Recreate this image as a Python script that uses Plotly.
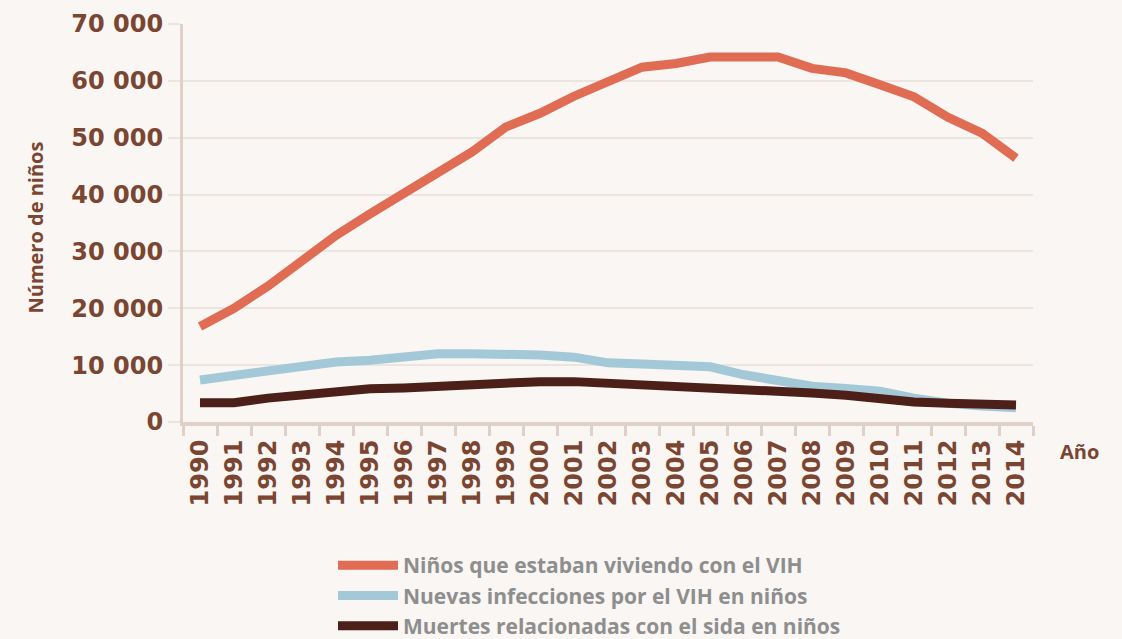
import plotly.graph_objects as go

years = [str(y) for y in range(1990, 2015)]

ninos_vih = [16800, 20000, 23900, 28400, 32800, 36600, 40200, 44100, 47500, 51900,
             54300, 57300, 59900, 62400, 63050, 64200, 64200, 64200, 62200, 61400,
             59300, 57200, 53600, 50800, 46400]
nuevas_inf = [7400, 8200, 8800, 9850, 10550, 10850, 11250, 12000, 12000, 12000,
              11800, 11400, 10400, 10200, 10000, 9700, 8300, 7300, 6300, 5900,
              5400, 4200, 3300, 2800, 2500]
muertes = [3400, 3400, 4200, 4750, 5100, 5850, 6000, 6350, 6650, 6900,
           7100, 7100, 6850, 6650, 6350, 6000, 5700, 5450, 5100, 4700,
           4100, 3500, 3300, 3100, 3000]

series_names = ["Niños que estaban viviendo con el VIH",
                "Nuevas infecciones por el VIH en niños",
                "Muertes relacionadas con el sida en niños"]
series_colors = ["#e06c54", "#a3c9d9", "#4c1f18"]

y_tickvals = [0, 10000, 20000, 30000, 40000, 50000, 60000, 70000]
y_ticktext = ["0", "10 000", "20 000", "30 000", "40 000", "50 000", "60 000", "70 000"]

BG = "#f9f6f3"
BROWN = "#7a4632"
AXIS = "#dfd1c8"
GRID = "#ece5df"

fig = go.Figure()
for name, vals, col in zip(series_names, [ninos_vih, nuevas_inf, muertes], series_colors):
    fig.add_trace(go.Scatter(x=years, y=vals, name=name, mode="lines",
                             line=dict(color=col, width=9)))

fig.update_layout(
    width=1122, height=639,
    paper_bgcolor=BG, plot_bgcolor=BG,
    margin=dict(l=183, r=89, t=24, b=217, autoexpand=False),
    showlegend=True,
    legend=dict(x=(333 - 183) / 850, y=(422 - 545) / 398, xanchor="left", yanchor="top",
                bgcolor="rgba(0,0,0,0)", itemwidth=60, tracegroupgap=0,
                font=dict(family="Open Sans", size=21, color="#8e8e8e", weight="bold")),
    xaxis=dict(type="category", range=[-0.5, 24.5], tickson="boundaries",
               ticks="outside", ticklen=10, tickwidth=3, tickcolor=AXIS,
               showline=True, linecolor=AXIS, linewidth=4, showgrid=False,
               tickangle=-90, ticklabelstandoff=4,
               tickfont=dict(family="DejaVu Sans", size=24, color=BROWN, weight="bold")),
    yaxis=dict(range=[0, 70000], tickvals=y_tickvals, ticktext=y_ticktext,
               ticks="outside", ticklen=12, tickwidth=2, tickcolor=GRID,
               showline=True, linecolor=AXIS, linewidth=3,
               showgrid=True, gridcolor=GRID, gridwidth=2, zeroline=False,
               ticklabelstandoff=0,
               tickfont=dict(family="DejaVu Sans", size=24, color=BROWN, weight="bold")),
    annotations=[
        dict(text="Número de niños", xref="paper", yref="paper",
             x=(19 - 183) / 850, y=(422 - 228) / 398, textangle=-90, showarrow=False,
             font=dict(family="Open Sans", size=20, color=BROWN, weight="bold")),
        dict(text="Año", xref="paper", yref="paper",
             x=(1101 - 183) / 850, y=(422 - 467) / 398, showarrow=False,
             font=dict(family="Open Sans", size=20, color=BROWN, weight="bold")),
    ],
)

fig.write_html("out.html", config={"displayModeBar": False},
               post_script="document.body.style.margin='0';document.body.style.padding='0';")
